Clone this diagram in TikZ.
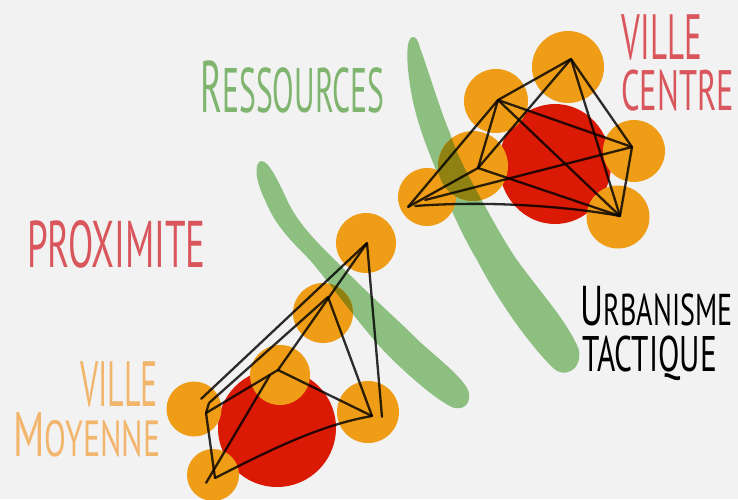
\documentclass[tikz,border=0pt]{standalone}
\usepackage{fontspec}
\setmainfont{PT Sans}
\definecolor{bgc}{HTML}{F2F2F3}
\definecolor{orangec}{HTML}{EF9D17}
\definecolor{redc}{HTML}{DA1A05}
\definecolor{greenc}{HTML}{8CBF80}
\definecolor{olivec}{HTML}{8F8212}
\definecolor{tgreen}{HTML}{7FB56F}
\definecolor{tred}{HTML}{D9565C}
\definecolor{torange}{HTML}{F2B56C}
\tikzset{
  org/.style={fill=orangec,draw=none},
  rd/.style={fill=redc,draw=none},
  lnk/.style={draw=black,opacity=.82,line width=2.3pt,line cap=round,line join=round},
  lab/.style={inner sep=0pt,anchor=base,font=\fontsize{#1}{#1}\selectfont},
  pt/.style={inner sep=0pt,minimum size=0pt}
}
\newcommand{\bandA}{(413,37) .. controls (406,37) and (406,60) .. (410,85) .. controls (415,120) and (428,150) .. (438,175) .. controls (450,210) and (465,240) .. (477,260) .. controls (495,295) and (525,340) .. (553,368) .. controls (563,378) and (582,372) .. (579,350) .. controls (568,322) and (540,292) .. (517,260) .. controls (502,238) and (490,215) .. (480,197) .. controls (465,170) and (455,150) .. (450,133) .. controls (440,110) and (425,60) .. (420,48) .. controls (418,40) and (416,37) .. (413,37) -- cycle}
\newcommand{\bandB}{(261,161) .. controls (254,163) and (255,180) .. (265,200) .. controls (275,225) and (290,240) .. (310,260) .. controls (335,290) and (360,325) .. (383,350) .. controls (400,368) and (430,395) .. (448,405) .. controls (458,412) and (471,408) .. (469,393) .. controls (466,380) and (440,360) .. (420,342) .. controls (400,322) and (375,300) .. (350,275) .. controls (325,250) and (300,228) .. (287,200) .. controls (278,180) and (268,160) .. (261,161) -- cycle}
\begin{document}
\begin{tikzpicture}[x=1pt,y=-1pt]
\useasboundingbox (0,0) rectangle (738,499);
\fill[bgc] (0,0) rectangle (738,499);
% green bands
\fill[greenc] \bandA;
\fill[greenc] \bandB;
% red discs
\fill[rd] (555,164) ellipse [x radius=56,y radius=60];
\fill[rd] (277,428) ellipse [x radius=59,y radius=59];
% upper orange discs
\fill[org] (568,67) circle (36);
\fill[org] (496,101) circle (32);
\fill[org] (634,151) circle (31);
\fill[org] (618,217) circle (31.5);
\fill[org] (427,197) circle (29);
\fill[org] (473,166) circle (35);
% lower orange discs
\fill[org] (366,243) circle (30);
\fill[org] (323,313) circle (30);
\fill[org] (280,375) circle (30);
\fill[org] (194,409) circle (27.5);
\fill[org] (213,475) circle (26);
\fill[org] (368,412) circle (31);
% overlaps
\begin{scope}
\clip \bandA;
\fill[olivec] (473,166) circle (35);
\end{scope}
\begin{scope}
\clip \bandB;
\fill[olivec] (323,313) circle (30);
\end{scope}
% upper network
\node[pt] (ua) at (571,59) {};
\node[pt] (ub) at (498,100) {};
\node[pt] (uc) at (632,147) {};
\node[pt] (ud) at (620,216) {};
\node[pt] (ue) at (408,207) {};
\node[pt] (uf) at (478,168) {};
\node[pt] (ug) at (425,200) {};
\node[pt] (uh) at (415,206) {};
\draw[lnk] (ub) -- (ua);
\draw[lnk] (ua) -- (uf);
\draw[lnk] (ua) -- (ud);
\draw[lnk] (ua) -- (uc);
\draw[lnk] (uc) -- (ud);
\draw[lnk] (ub) -- (uc);
\draw[lnk] (ub) -- (ud);
\draw[lnk] (ub) -- (uf);
\draw[lnk] (ub) -- (ue);
\draw[lnk] (uf) -- (ud);
\draw[lnk] (uf) -- (ue);
\draw[lnk] (ug) -- (uc);
\draw[lnk] (uh) .. controls (480,201) and (560,205) .. (ud);
% lower network
\node[pt] (lt) at (367,243) {};
\node[pt] (ls) at (328,297) {};
\node[pt] (lm) at (278,370) {};
\node[pt] (ll) at (206,413) {};
\node[pt] (lb) at (215,478) {};
\node[pt] (lr) at (372,416) {};
\node[pt] (lx) at (201,399) {};
\node[pt] (ly) at (382,417) {};
\node[pt] (lz) at (270,375) {};
\node[pt] (lw) at (206,483) {};
\node[pt] (lv) at (209,403) {};
\draw[lnk] (lt) -- (lx);
\draw[lnk] (lt) -- (ly);
\draw[lnk] (lt) -- (lm);
\draw[lnk] (ls) -- (lv) -- (ll);
\draw[lnk] (ls) -- (lr);
\draw[lnk] (lm) -- (ll);
\draw[lnk] (lm) -- (lr);
\draw[lnk] (ll) -- (lb);
\draw[lnk] (lb) .. controls (270,450) and (320,425) .. (lr);
\draw[lnk] (lz) -- (lw);
% labels
\node[lab=31,text=tgreen,xscale=1.02,yscale=2.03] (t1) at (292.5,112) {\fontsize{36}{36}\selectfont R\fontsize{31}{31}\selectfont ESSOURCES};
\node[lab=50,text=tred,xscale=.66,yscale=1.28] (t2) at (662,59) {VILLE};
\node[lab=50,text=tred,xscale=.65,yscale=1.14] (t3) at (677.5,110) {CENTRE};
\node[lab=50,text=tred,xscale=.74,yscale=1.32] (t4) at (116.5,267) {PROXIMITE};
\node[lab=50,text=torange,xscale=.64,yscale=1.28] (t5) at (119,406) {VILLE};
\node[lab=29,text=torange,xscale=1.1,yscale=1.75] (t6) at (87,456) {\fontsize{36}{36}\selectfont M\fontsize{29}{29}\selectfont OYENNE};
\node[lab=27,text=black,xscale=1.04,yscale=1.65] (t7) at (656.5,325) {\fontsize{34}{34}\selectfont U\fontsize{27}{27}\selectfont RBANISME};
\node[lab=27,text=black,xscale=1.16,yscale=1.85] (t8) at (649.5,371) {TACTIQUE};
\end{tikzpicture}
\end{document}
